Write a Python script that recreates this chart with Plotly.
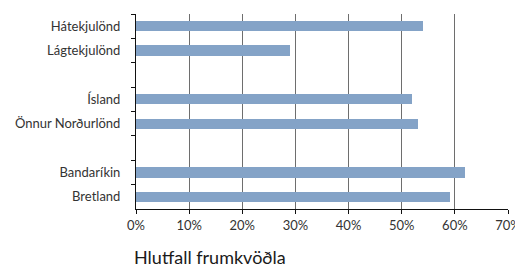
import plotly.graph_objects as go

categories = ["Hátekjulönd", "Lágtekjulönd", " ", "Ísland", "Önnur Norðurlönd", "  ", "Bandaríkin", "Bretland"]
values = [0.54, 0.29, None, 0.52, 0.53, None, 0.62, 0.59]
x_ticks = [0, 0.1, 0.2, 0.3, 0.4, 0.5, 0.6, 0.7]
x_labels = ["0%", "10%", "20%", "30%", "40%", "50%", "60%", "70%"]
x_title = "Hlutfall frumkvöðla"

fig = go.Figure()
fig.add_trace(go.Bar(
    y=categories, x=values, orientation="h",
    marker=dict(color="#84a3c7", line=dict(width=0)),
    width=0.42,
))

fig.update_layout(
    width=515, height=263,
    margin=dict(l=128, r=15, t=6, b=62, autoexpand=False),
    paper_bgcolor="white", plot_bgcolor="white",
    font=dict(family="Lato, Open Sans, sans-serif", size=12, color="#333333"),
    showlegend=False,
    bargap=0,
)
fig.update_xaxes(
    range=[0, 0.7], tickvals=x_ticks, ticktext=x_labels,
    showgrid=True, gridcolor="#6e6e6e", gridwidth=1,
    showline=True, linecolor="#111111", linewidth=1,
    ticks="outside", ticklen=4, tickcolor="#111111",
    tickfont=dict(size=13, color="#333333"),
    zeroline=False, automargin=False,
)
fig.update_yaxes(
    type="category", categoryorder="array", categoryarray=categories,
    autorange="reversed",
    showgrid=False, showline=True, linecolor="#111111", linewidth=1,
    ticks="outside", ticklen=4, tickcolor="#111111", tickson="boundaries",
    tickfont=dict(size=13, color="#333333"),
    ticklabelstandoff=12, automargin=False,
)
fig.add_annotation(
    text=x_title, xref="paper", yref="paper", x=-0.011, y=-0.246,
    xanchor="left", yanchor="middle", showarrow=False,
    font=dict(size=18, color="#1a1a1a"),
)
fig.write_html("out.html")
